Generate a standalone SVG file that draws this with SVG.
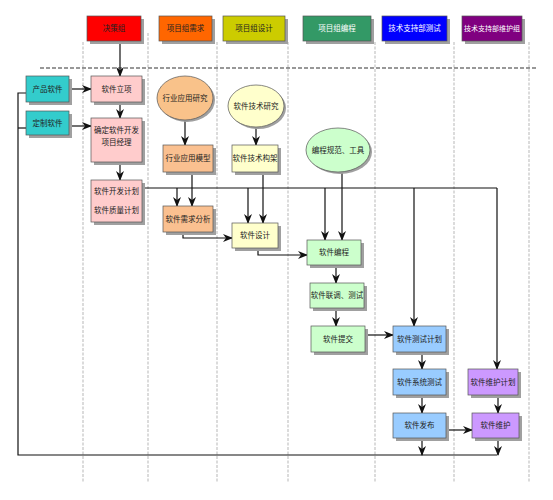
<svg xmlns="http://www.w3.org/2000/svg" width="553" height="500" viewBox="0 0 553 500">
<style>
text{font-family:"Liberation Sans","Noto Sans CJK SC",sans-serif;font-size:7.5px;text-anchor:middle;fill:#222}
.w{fill:#fff}
.box{stroke:#555;stroke-width:0.7}
.sh{fill:#a0a0a0}
.lane{stroke:#999;stroke-width:0.7;stroke-dasharray:3,1.5;fill:none}
.c{stroke:#111;stroke-width:1.2;fill:none}
.ca{stroke:#111;stroke-width:1.2;fill:none;marker-end:url(#ah)}
</style>
<defs>
<marker id="ah" markerUnits="userSpaceOnUse" markerWidth="10" markerHeight="8" refX="9" refY="4" orient="auto">
<path d="M0,0 L10,4 L0,8 L3,4 z" fill="#111"/>
</marker>
</defs>
<rect width="553" height="500" fill="#fff"/>
<g id="lanes">
<line class="lane" x1="83" y1="42" x2="83" y2="482"/>
<line class="lane" x1="148" y1="33" x2="148" y2="482"/>
<line class="lane" x1="217" y1="42" x2="217" y2="482"/>
<line class="lane" x1="288" y1="42" x2="288" y2="482"/>
<line class="lane" x1="375" y1="42" x2="375" y2="482"/>
<line class="lane" x1="454" y1="42" x2="454" y2="482"/>
<line class="lane" x1="529" y1="42" x2="529" y2="482"/>
<line x1="40" y1="68" x2="537" y2="68" stroke="#333" stroke-width="1.2" stroke-dasharray="4,2"/>
</g>
<g id="h1"><rect class="sh" x="90" y="19" width="54" height="25"/><rect class="box" x="87" y="16" width="54" height="25" fill="#ff0000"/><text x="114" y="31" fill="#7a0000">决策组</text></g>
<g id="h2"><rect class="sh" x="162" y="19" width="53" height="25"/><rect class="box" x="159" y="16" width="53" height="25" fill="#ff6600"/><text x="185.5" y="31">项目组需求</text></g>
<g id="h3"><rect class="sh" x="226" y="19" width="62" height="25"/><rect class="box" x="223" y="16" width="62" height="25" fill="#cccc00"/><text x="254" y="31">项目组设计</text></g>
<g id="h4"><rect class="sh" x="306" y="19" width="68" height="25"/><rect class="box" x="303" y="16" width="68" height="25" fill="#339966"/><text class="w" x="337" y="31">项目组编程</text></g>
<g id="h5"><rect class="sh" x="385" y="19" width="65" height="25"/><rect class="box" x="382" y="16" width="65" height="25" fill="#0000ff"/><text class="w" x="414.5" y="31">技术支持部测试</text></g>
<g id="h6"><rect class="sh" x="465" y="19" width="60" height="25"/><rect class="box" x="462" y="16" width="60" height="25" fill="#800080"/><text class="w" x="492" y="31" style="font-size:7px">技术支持部维护组</text></g>

<g id="connectors">
<line class="ca" x1="120" y1="44" x2="120" y2="76"/>
<line class="ca" x1="69" y1="89" x2="91" y2="89"/>
<line class="ca" x1="69" y1="126" x2="91" y2="126"/>
<polyline class="c" points="26,93 18,93 18,455 497,455"/>
<line class="c" x1="18" y1="128" x2="26" y2="128"/>
<line class="ca" x1="120" y1="102" x2="120" y2="118"/>
<line class="ca" x1="120" y1="162" x2="120" y2="180"/>
<polyline class="c" points="142,188 497,188"/>
<line class="ca" x1="177" y1="188" x2="177" y2="206"/>
<line class="ca" x1="248" y1="188" x2="248" y2="223"/>
<line class="ca" x1="325" y1="188" x2="325" y2="240"/>
<line class="ca" x1="414" y1="188" x2="414" y2="326"/>
<line class="ca" x1="497" y1="188" x2="497" y2="369"/>
<line class="ca" x1="185" y1="120" x2="185" y2="145"/>
<line class="ca" x1="192" y1="172" x2="192" y2="206"/>
<line class="ca" x1="256" y1="127" x2="256" y2="145"/>
<line class="ca" x1="263" y1="172" x2="263" y2="223"/>
<polyline class="ca" points="183,232 183,238 232,238"/>
<polyline class="ca" points="258,248 258,255 307,255"/>
<line class="ca" x1="342" y1="172" x2="342" y2="240"/>
<line class="ca" x1="336" y1="265" x2="336" y2="283"/>
<line class="ca" x1="336" y1="308" x2="336" y2="326"/>
<line class="ca" x1="365" y1="335" x2="393" y2="335"/>
<line class="ca" x1="422" y1="352" x2="422" y2="369"/>
<line class="ca" x1="422" y1="395" x2="422" y2="413"/>
<line class="ca" x1="446" y1="430" x2="472" y2="430"/>
<line class="ca" x1="498" y1="395" x2="498" y2="413"/>
<line class="ca" x1="422" y1="438" x2="422" y2="455"/>
<line class="ca" x1="498" y1="438" x2="498" y2="455"/>
</g>

<g id="n_product"><rect class="sh" x="29" y="79" width="43" height="26"/><rect class="box" x="26" y="76" width="43" height="26" fill="#33cccc"/><text x="47.5" y="92">产品软件</text></g>
<g id="n_custom"><rect class="sh" x="29" y="114" width="43" height="24"/><rect class="box" x="26" y="111" width="43" height="24" fill="#33cccc"/><text x="47.5" y="126">定制软件</text></g>
<g id="n_lixiang"><rect class="sh" x="94" y="79" width="51" height="26"/><rect class="box" x="91" y="76" width="51" height="26" fill="#ffcccc"/><text x="116.5" y="92">软件立项</text></g>
<g id="n_pm"><rect class="sh" x="94" y="121" width="51" height="44"/><rect class="box" x="91" y="118" width="51" height="44" fill="#ffcccc"/><text x="116.5" y="133">确定软件开发</text><text x="116.5" y="145">项目经理</text></g>
<g id="n_plan"><rect class="sh" x="94" y="183" width="51" height="42"/><rect class="box" x="91" y="180" width="51" height="42" fill="#ffcccc"/><text x="116.5" y="194">软件开发计划</text><text x="116.5" y="213">软件质量计划</text></g>
<g id="n_hyyj"><ellipse cx="187" cy="100" rx="28" ry="22" fill="#a0a0a0"/><ellipse class="box" cx="185" cy="98" rx="28" ry="22" fill="#f9c28a"/><text x="185" y="101">行业应用研究</text></g>
<g id="n_jsyj"><ellipse cx="258" cy="108" rx="28" ry="21" fill="#a0a0a0"/><ellipse class="box" cx="256" cy="106" rx="28" ry="21" fill="#ffffcc"/><text x="256" y="109">软件技术研究</text></g>
<g id="n_hymx"><rect class="sh" x="166" y="148" width="50" height="27"/><rect class="box" x="163" y="145" width="50" height="27" fill="#fac090"/><text x="188" y="161">行业应用模型</text></g>
<g id="n_jsgj"><rect class="sh" x="235" y="148" width="46" height="27"/><rect class="box" x="232" y="145" width="46" height="27" fill="#ffffcc"/><text x="255" y="161">软件技术构架</text></g>
<g id="n_xqfx"><rect class="sh" x="166" y="209" width="50" height="26"/><rect class="box" x="163" y="206" width="50" height="26" fill="#fac090"/><text x="188" y="221.5">软件需求分析</text></g>
<g id="n_sj"><rect class="sh" x="235" y="226" width="46" height="25"/><rect class="box" x="232" y="223" width="46" height="25" fill="#ffffcc"/><text x="255" y="238">软件设计</text></g>
<g id="n_gf"><ellipse cx="340" cy="152" rx="32" ry="22" fill="#a0a0a0"/><ellipse class="box" cx="338" cy="150" rx="32" ry="22" fill="#ccffcc"/><text x="338" y="153">编程规范、工具</text></g>
<g id="n_bc"><rect class="sh" x="310" y="243" width="54" height="25"/><rect class="box" x="307" y="240" width="54" height="25" fill="#ccffcc"/><text x="334" y="255">软件编程</text></g>
<g id="n_lt"><rect class="sh" x="313" y="286" width="54" height="25"/><rect class="box" x="310" y="283" width="54" height="25" fill="#ccffcc"/><text x="337" y="298">软件联调、测试</text></g>
<g id="n_tj"><rect class="sh" x="314" y="329" width="54" height="26"/><rect class="box" x="311" y="326" width="54" height="26" fill="#ccffcc"/><text x="338" y="341.5">软件提交</text></g>
<g id="n_csjh"><rect class="sh" x="396" y="329" width="53" height="26"/><rect class="box" x="393" y="326" width="53" height="26" fill="#99ccff"/><text x="419.5" y="341.5">软件测试计划</text></g>
<g id="n_xtcs"><rect class="sh" x="396" y="372" width="53" height="26"/><rect class="box" x="393" y="369" width="53" height="26" fill="#99ccff"/><text x="419.5" y="384.5">软件系统测试</text></g>
<g id="n_fb"><rect class="sh" x="396" y="416" width="53" height="25"/><rect class="box" x="393" y="413" width="53" height="25" fill="#99ccff"/><text x="419.5" y="428">软件发布</text></g>
<g id="n_whjh"><rect class="sh" x="471" y="372" width="50" height="26"/><rect class="box" x="468" y="369" width="50" height="26" fill="#cc99ff"/><text x="493" y="384.5">软件维护计划</text></g>
<g id="n_wh"><rect class="sh" x="475" y="416" width="47" height="25"/><rect class="box" x="472" y="413" width="47" height="25" fill="#cc99ff"/><text x="495.5" y="428">软件维护</text></g>
</svg>
